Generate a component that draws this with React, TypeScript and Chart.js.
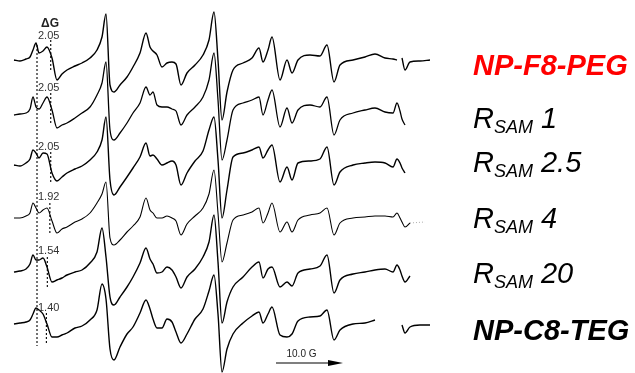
import React, { useEffect, useRef } from "react";
import { Chart, registerables } from "chart.js";

Chart.register(...registerables);

// Magnetic field axis, in recorder channels (10.0 G = 67 channels, from the scale bar)
const FIELD_CH = [
  14, 20, 26, 30, 33, 36, 39, 43, 47, 52,
  57, 62, 67, 75, 82, 90, 97, 102, 106, 110,
  114, 120, 127, 133, 140, 146, 150, 153, 157, 162,
  167, 172, 176, 181, 187, 195, 203, 209, 214, 218,
  222, 227, 233, 243, 252, 259, 263, 268, 272, 280,
  287, 292, 298, 310, 320, 327, 334, 340, 353, 365,
  375, 385, 393, 397, 400, 402, 405, 410, 420, 430,
];
const CH_PER_G = 6.7;

// EPR derivative intensities (arbitrary units), one list per sample
const NP_F8_PEG = [
  0, -1, 1, 3, 10, 17, 7, 9, 13, 2,
  -20, -14, -10, -6, -3, 2, 10, 23, 46, -25,
  -32, -25, -17, -7, 7, 27, 13, 9, 5, -7,
  -3, -2, -4, -25, -13, -5, 5, 20, 48, 0,
  -60, -32, -10, -3, 2, 12, -2, 10, 23, -20,
  0, -13, 0, 5, 4, 15, -22, -5, 0, 3,
  6, 2, 1, 0, null, 2, -10, -2, -1, 0,
];
const RSAM_1 = [
  0, 1, 2, 6, 18, 8, 6, 12, 18, 5,
  -13, -10, -8, -3, 2, 8, 20, 32, 53, -15,
  -25, -18, -8, 2, 12, 28, 20, 23, 10, 8,
  8, 6, 4, -10, 0, 8, 18, 35, 62, 15,
  -45, -25, 5, 12, 15, 18, 0, 15, 25, -12,
  7, -8, 5, 10, 8, 18, -20, -5, 2, 5,
  7, 3, 2, 12, 4, -4, -10, null, null, null,
];
const RSAM_2_5 = [
  0, -1, 2, 6, 15, 12, 7, 12, 11, -8,
  -16, -12, -8, -4, -1, 5, 13, 25, 48, -15,
  -30, -22, -12, -3, 8, 22, 9, 10, 6, 0,
  2, 4, 0, -20, -8, 4, 14, 35, 48, 5,
  -53, -25, 8, 12, 15, 18, 7, 15, 20, -17,
  -2, -15, 2, 4, 6, 18, -20, -7, 0, 2,
  3, 2, -2, 6, 2, -3, -8, null, null, null,
];
const RSAM_4 = [
  0, 0, 2, 5, 15, 10, 5, 8, 10, -3,
  -15, -11, -9, -4, -1, 5, 15, 24, 36, -20,
  -27, -22, -14, -8, 1, 20, 8, 5, 0, 0,
  2, 0, -3, -17, -6, 2, 10, 24, 48, 5,
  -44, -25, -2, 3, 6, 10, -5, 5, 15, -14,
  -4, -14, -2, 3, 5, 10, -17, -5, 0, 1,
  2, 2, 1, 5, 0, -4, -9, -5, null, null,
];
const RSAM_4_TAIL_CH = [410, 425];
const RSAM_4_TAIL = [-5, -4];
const RSAM_20 = [
  0, 1, 3, 8, 17, 12, 12, 14, 5, -10,
  -8, -6, -3, 0, 2, 9, 20, 44, 15, -25,
  -33, -25, -15, -5, 9, 24, 13, 8, -1, 0,
  5, 2, -5, -16, -5, 3, 15, 30, 57, 10,
  -51, -30, -15, -5, 5, 10, -6, 3, 5, -15,
  -10, -14, -1, 3, 6, 17, -21, -8, -2, 0,
  2, 3, 0, 7, 2, -4, -10, -4, null, null,
];
const NP_C8_TEG = [
  0, 1, 2, 4, 10, 16, 14, 10, 0, -13,
  -13, -11, -9, -4, -2, 4, 14, 40, 25, -25,
  -36, -23, -10, -3, 11, 24, 15, 5, -4, -4,
  5, 2, -8, -19, -10, 5, 15, 33, 49, 10,
  -48, -25, -10, 1, 8, 12, 1, 10, 17, -11,
  -13, -10, 3, 7, 8, 14, -16, -6, 0, 1,
  4, null, null, null, null, -1, -9, -3, -1, -1,
];

const SERIES = [NP_F8_PEG, RSAM_1, RSAM_2_5, RSAM_4, RSAM_20, NP_C8_TEG];
const SAMPLE_NAMES = ["NP-F8-PEG", "RSAM 1", "RSAM 2.5", "RSAM 4", "RSAM 20", "NP-C8-TEG"];
const DELTA_G = [2.05, 2.05, 2.05, 1.92, 1.54, 1.4];
const DELTA_G_REF_CH = 37;
const SCALE_BAR_G = 10.0;
const SCALE_BAR_START_CH = 276;

// layout (vertical stacking of traces on the reversed pixel-like axis)
const OFFSETS = [60, 115, 165, 218, 272, 324];
const LINE_W = [1.4, 1.3, 1.4, 1.1, 1.4, 1.4];
const DG_LABEL_DY = [-24, -27, -18, -21, -21, -16];
const DG_DASH = [[-20, 12], [-22, 10], [-13, 17], [-15, 15], [-15, 15], [-11, 21]];

const FONT = '"Liberation Sans", Arial, Helvetica, sans-serif';

const overlay = {
  id: "overlay",
  afterDatasetsDraw(chart: any) {
    const { ctx } = chart;
    const xs = chart.scales.x;
    const ys = chart.scales.y;
    ctx.save();
    ctx.fillStyle = "#222";
    ctx.textBaseline = "middle";
    ctx.textAlign = "center";
    ctx.font = `bold 12px ${FONT}`;
    ctx.fillText("\u0394G", xs.getPixelForValue(DELTA_G_REF_CH + 13), ys.getPixelForValue(24));
    ctx.textAlign = "left";
    ctx.font = `11px ${FONT}`;
    ctx.fillStyle = "#333";
    DELTA_G.forEach((g, i) => {
      ctx.fillText(g.toFixed(2), xs.getPixelForValue(DELTA_G_REF_CH + 1), ys.getPixelForValue(OFFSETS[i] + DG_LABEL_DY[i]));
    });
    const x0 = xs.getPixelForValue(SCALE_BAR_START_CH);
    const x1 = xs.getPixelForValue(SCALE_BAR_START_CH + SCALE_BAR_G * CH_PER_G);
    const yb = 363;
    ctx.strokeStyle = "#000";
    ctx.fillStyle = "#000";
    ctx.lineWidth = 1.2;
    ctx.beginPath();
    ctx.moveTo(x0, yb);
    ctx.lineTo(x1 - 10, yb);
    ctx.stroke();
    ctx.beginPath();
    ctx.moveTo(x1, yb);
    ctx.lineTo(x1 - 15, yb - 3);
    ctx.lineTo(x1 - 15, yb + 3);
    ctx.closePath();
    ctx.fill();
    ctx.font = `10px ${FONT}`;
    ctx.fillStyle = "#222";
    ctx.textAlign = "center";
    ctx.textBaseline = "alphabetic";
    ctx.fillText(`${SCALE_BAR_G.toFixed(1)} G`, (x0 + x1) / 2 - 8, 357);

    const left = 473;
    const drawBold = (t: string, baseline: number, color: string) => {
      ctx.font = `italic bold 29px ${FONT}`;
      ctx.fillStyle = color;
      ctx.textAlign = "left";
      ctx.fillText(t, left, baseline);
    };
    const drawR = (val: string, baseline: number) => {
      ctx.fillStyle = "#000";
      ctx.textAlign = "left";
      ctx.font = `italic 29px ${FONT}`;
      ctx.fillText("R", left, baseline);
      let x = left + ctx.measureText("R").width;
      ctx.font = `italic 18px ${FONT}`;
      ctx.fillText("SAM", x, baseline + 5);
      x += ctx.measureText("SAM").width + 8;
      ctx.font = `italic 29px ${FONT}`;
      ctx.fillText(val, x, baseline);
    };
    drawBold(SAMPLE_NAMES[0], 75, "#ff0000");
    drawR("1", 128);
    drawR("2.5", 172);
    drawR("4", 228);
    drawR("20", 283);
    drawBold(SAMPLE_NAMES[5], 340, "#000");
    ctx.restore();
  },
};

export default function App() {
  const ref = useRef<HTMLCanvasElement | null>(null);
  useEffect(() => {
    if (!ref.current) return;
    const datasets: any[] = SERIES.map((s, i) => ({
      label: SAMPLE_NAMES[i],
      data: FIELD_CH.map((f, j) => ({ x: f, y: s[j] === null ? null : OFFSETS[i] - (s[j] as number) })),
      borderColor: "#000",
      borderWidth: LINE_W[i],
      pointRadius: 0,
      cubicInterpolationMode: "monotone",
      spanGaps: false,
      fill: false,
    }));
    datasets.push({
      label: "RSAM 4 tail",
      data: RSAM_4_TAIL_CH.map((f, j) => ({ x: f, y: OFFSETS[3] - RSAM_4_TAIL[j] })),
      borderColor: "#999",
      borderWidth: 0.8,
      borderDash: [1, 2],
      pointRadius: 0,
    });
    datasets.push({
      label: "ref",
      data: [{ x: DELTA_G_REF_CH, y: 45 }, { x: DELTA_G_REF_CH, y: 346 }],
      borderColor: "#000",
      borderWidth: 1.1,
      borderDash: [2, 2],
      pointRadius: 0,
    });
    DELTA_G.forEach((g, i) => {
      datasets.push({
        label: "dg" + i,
        data: [
          { x: DELTA_G_REF_CH + g * CH_PER_G, y: OFFSETS[i] + DG_DASH[i][0] },
          { x: DELTA_G_REF_CH + g * CH_PER_G, y: OFFSETS[i] + DG_DASH[i][1] },
        ],
        borderColor: "#000",
        borderWidth: 1.1,
        borderDash: [2, 2],
        pointRadius: 0,
      });
    });
    const chart = new Chart(ref.current, {
      type: "line",
      data: { datasets },
      options: {
        animation: false,
        responsive: true,
        maintainAspectRatio: false,
        layout: { padding: 0 },
        plugins: { legend: { display: false }, tooltip: { enabled: false } },
        scales: {
          x: { type: "linear", min: 0, max: 635, display: false },
          y: { type: "linear", min: 0, max: 373, reverse: true, display: false },
        },
      },
      plugins: [overlay],
    });
    return () => chart.destroy();
  }, []);
  return (
    <div style={{ position: "fixed", left: 0, top: 0, width: 635, height: 373, background: "#fff" }}>
      <canvas ref={ref} />
    </div>
  );
}
